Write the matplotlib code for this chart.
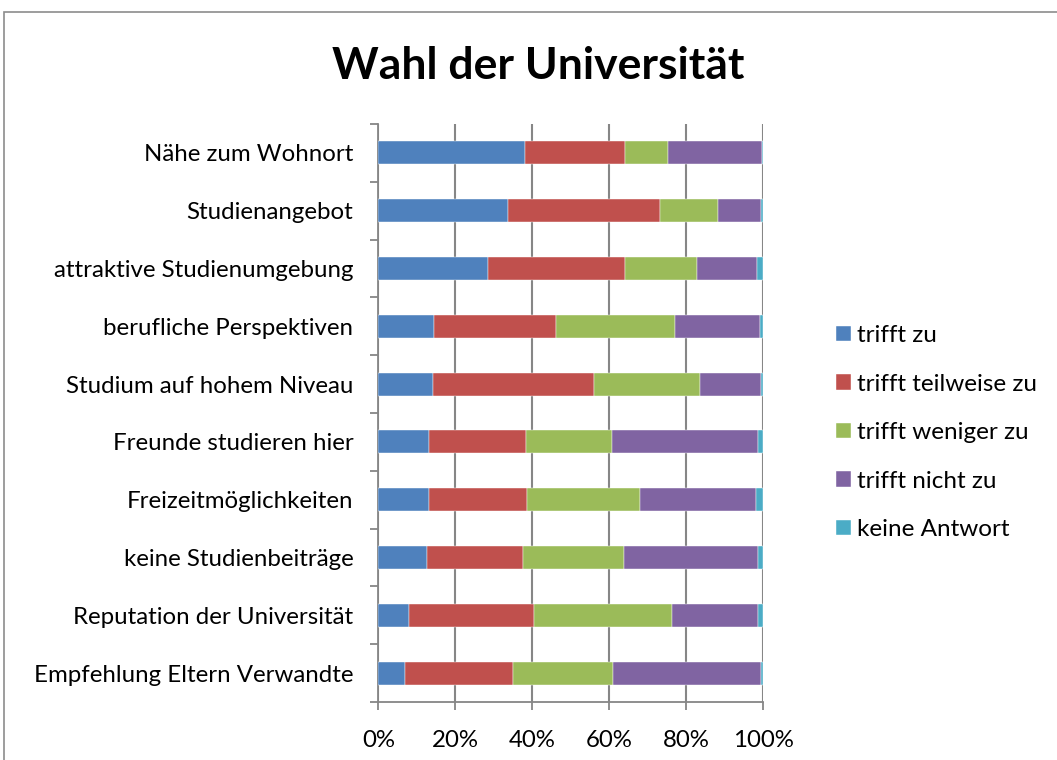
import numpy as np
import matplotlib
matplotlib.use("Agg")
import matplotlib.pyplot as plt
from matplotlib.patches import Rectangle

plt.rcParams['font.family'] = ['Lato', 'DejaVu Sans']

# Data (shares in percent)
categories = [
    "Nähe zum Wohnort",
    "Studienangebot",
    "attraktive Studienumgebung",
    "berufliche Perspektiven",
    "Studium auf hohem Niveau",
    "Freunde studieren hier",
    "Freizeitmöglichkeiten",
    "keine Studienbeiträge",
    "Reputation der Universität",
    "Empfehlung Eltern Verwandte",
]
trifft_zu = [38.0, 33.8, 28.6, 14.4, 14.2, 13.2, 13.1, 12.7, 8.0, 7.0]
trifft_teilweise = [26.1, 39.4, 35.5, 31.7, 41.9, 25.2, 25.5, 25.0, 32.4, 28.0]
trifft_weniger = [11.1, 15.1, 18.6, 30.9, 27.4, 22.2, 29.3, 26.2, 35.8, 25.9]
trifft_nicht = [24.45, 11.1, 15.7, 22.1, 15.9, 38.1, 30.1, 34.8, 22.5, 38.5]
keine_antwort = [0.35, 0.6, 1.6, 0.9, 0.6, 1.3, 2.0, 1.3, 1.3, 0.6]

series = [
    ("trifft zu", trifft_zu, "#4F81BD"),
    ("trifft teilweise zu", trifft_teilweise, "#C0504D"),
    ("trifft weniger zu", trifft_weniger, "#9BBB59"),
    ("trifft nicht zu", trifft_nicht, "#8064A2"),
    ("keine Antwort", keine_antwort, "#4BACC6"),
]

fig = plt.figure(figsize=(10.57, 7.6), dpi=100)
ax = fig.add_axes([0.3579, 0.0763, 0.7222 - 0.3579, 0.8368 - 0.0763])

# outer chart border like the Excel chart area
fig.patches.append(Rectangle((4 / 1057, -0.05), 1.1, 1 - 12 / 760 + 0.05,
                             transform=fig.transFigure, fill=False,
                             edgecolor="#8c8c8c", linewidth=1.2))

y = np.arange(len(categories))[::-1]
left = np.zeros(len(categories))
for name, vals, col in series:
    vals = np.array(vals, dtype=float)
    ax.barh(y, vals, left=left, height=0.4, color=col, label=name,
            edgecolor="white", linewidth=0.3, zorder=3)
    left += vals

ax.set_xlim(0, 100)
ax.set_ylim(-0.5, len(categories) - 0.5)
ax.set_xticks(np.arange(0, 101, 20))
ax.set_xticklabels([f"{v}%" for v in range(0, 101, 20)], fontsize=17.3)
ax.set_yticks(np.arange(-0.5, len(categories), 1.0))
ax.set_yticklabels([])
ax.set_yticks(y, minor=True)
ax.set_yticklabels(categories, minor=True, fontsize=17.3)
ax.tick_params(axis='y', which='minor', length=0, pad=18)
ax.tick_params(axis='y', which='major', length=6, width=1.3, color="#868686")
ax.tick_params(axis='x', length=6, width=1.3, color="#868686", pad=14)

ax.grid(axis='x', color="#868686", linewidth=1.5, zorder=0)
ax.set_axisbelow(True)
for s in ["top", "right"]:
    ax.spines[s].set_visible(False)
for s in ["left", "bottom"]:
    ax.spines[s].set_color("#868686")
    ax.spines[s].set_linewidth(1.3)

fig.text(538 / 1057, 1 - 66 / 760, "Wahl der Universität", ha="center",
         va="center", fontsize=32, fontweight="bold")

ax.legend(loc="upper left", bbox_to_anchor=(824 / 1057, 1 - 313 / 760),
          bbox_transform=fig.transFigure, frameon=False, fontsize=17.5,
          handlelength=0.62, handleheight=0.62, handletextpad=0.25,
          labelspacing=1.13, borderpad=0)

fig.savefig("out.png", dpi=100)
